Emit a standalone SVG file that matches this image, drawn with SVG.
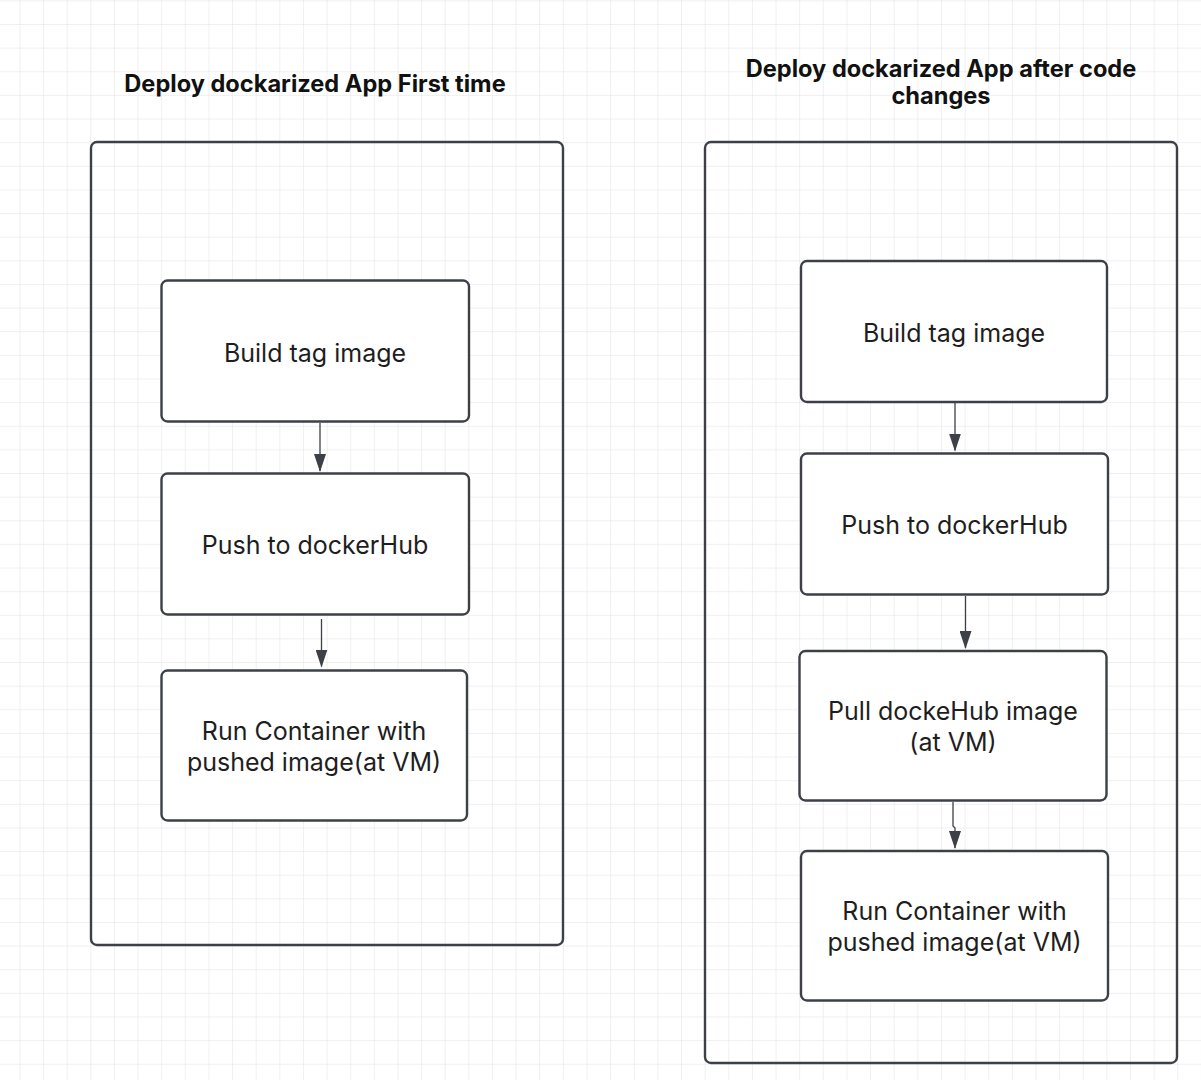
<svg xmlns="http://www.w3.org/2000/svg" width="1201" height="1080" viewBox="0 0 1201 1080">
<style>
.title{font-family:Inter,"Liberation Sans",sans-serif;font-weight:700;font-size:23.6px;fill:#111;text-anchor:middle}
.lbl{font-family:Inter,"Liberation Sans",sans-serif;font-size:25px;fill:#1e1e1e;text-anchor:middle}
.frame{fill:none;stroke:#3d4047;stroke-width:2.4}
.box{fill:#fff;stroke:#3d4047;stroke-width:2.4}
.conn{fill:none;stroke:#3d4047;stroke-width:1.3}
</style>
<defs>
<pattern id="grid" patternUnits="userSpaceOnUse" x="19.4" y="0.4" width="23.63" height="23.63">
<path d="M0 0H23.63M0 0V23.63" fill="none" stroke="#e2e2e2" stroke-width="1"/>
</pattern>
<marker id="ah" viewBox="0 0 18 12" refX="17" refY="6" markerWidth="18" markerHeight="12" markerUnits="userSpaceOnUse" orient="auto">
<path d="M0 0L18 6 0 12z" fill="#3d4047"/>
</marker>
</defs>
<rect width="1201" height="1080" fill="#fff"/>
<rect width="1201" height="1080" fill="url(#grid)"/>

<g id="left-title"><text class="title" x="315" y="92">Deploy dockarized App First time</text></g>
<g id="right-title"><text class="title" x="941" y="77">Deploy dockarized App after code</text><text class="title" x="941" y="104">changes</text></g>

<g id="left-frame"><rect class="frame" x="91" y="142" width="472" height="803" rx="6"/></g>
<g id="right-frame"><rect class="frame" x="705" y="142" width="472" height="921" rx="6"/></g>

<g id="connectors">
<path class="conn" d="M320 423V471" marker-end="url(#ah)"/>
<path class="conn" d="M321.5 619V666.5" marker-end="url(#ah)"/>
<path class="conn" d="M955 403V450.5" marker-end="url(#ah)"/>
<path class="conn" d="M965.5 596V648" marker-end="url(#ah)"/>
<path class="conn" d="M953 802V826L955 828V848" marker-end="url(#ah)"/>
</g>

<g id="l-build"><rect class="box" x="161.5" y="280.5" width="307.5" height="141" rx="6"/><text class="lbl" x="315" y="362">Build tag image</text></g>
<g id="l-push"><rect class="box" x="161.5" y="473.5" width="307.5" height="141" rx="6"/><text class="lbl" x="315" y="554">Push to dockerHub</text></g>
<g id="l-run"><rect class="box" x="161.5" y="670.5" width="305.5" height="150" rx="6"/><text class="lbl" x="314" y="740">Run Container with</text><text class="lbl" x="314" y="771">pushed image(at VM)</text></g>

<g id="r-build"><rect class="box" x="801" y="261" width="306" height="141" rx="6"/><text class="lbl" x="954" y="342">Build tag image</text></g>
<g id="r-push"><rect class="box" x="801" y="453.5" width="307" height="141" rx="6"/><text class="lbl" x="954.5" y="534">Push to dockerHub</text></g>
<g id="r-pull"><rect class="box" x="799.5" y="651" width="307" height="149.5" rx="6"/><text class="lbl" x="953" y="719.5">Pull dockeHub image</text><text class="lbl" x="953" y="750.5">(at VM)</text></g>
<g id="r-run"><rect class="box" x="801" y="851" width="307" height="149.5" rx="6"/><text class="lbl" x="954.5" y="920">Run Container with</text><text class="lbl" x="954.5" y="951">pushed image(at VM)</text></g>
</svg>
